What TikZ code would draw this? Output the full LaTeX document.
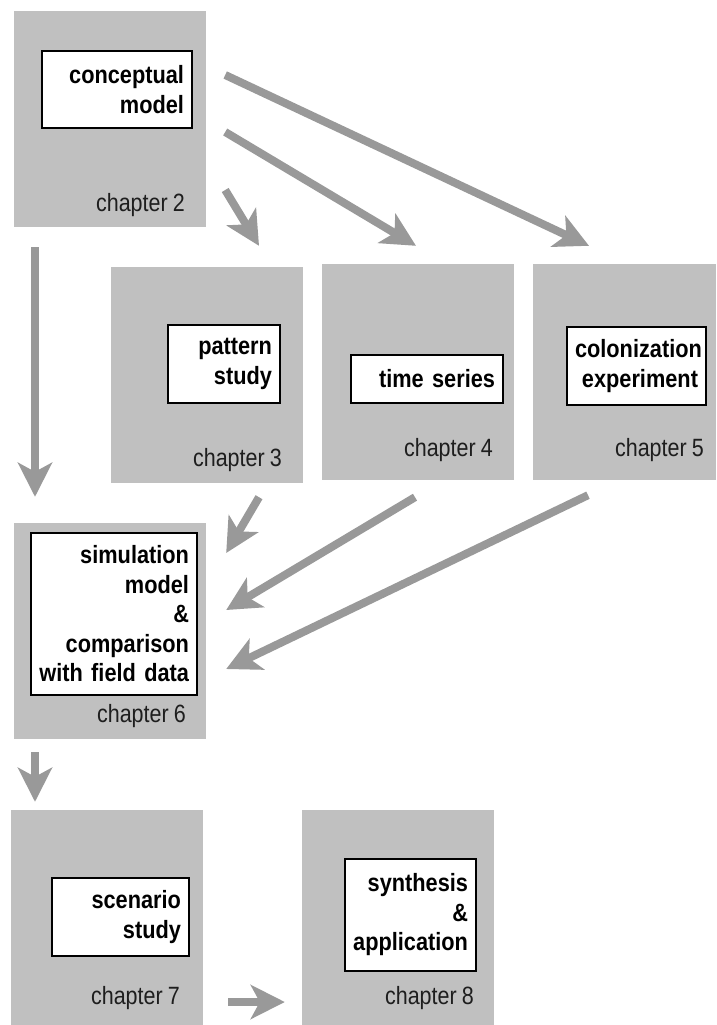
\documentclass[tikz,border=0pt]{standalone}
\usepackage{fontspec}
\setmainfont{Liberation Sans}[FakeStretch=0.86, WordSpace=0.85]
\newfontfamily\topicfont{Liberation Sans}[UprightFont=* Bold, FakeStretch=0.87, WordSpace=0.8]
\usepackage{tikz}
\usetikzlibrary{arrows.meta, calc}
\definecolor{chgray}{HTML}{C0C0C0}
\definecolor{arrowgray}{HTML}{999999}
\definecolor{labelink}{HTML}{1E1E1E}
\tikzstyle{chapter} = [rectangle, fill=chgray, inner sep=0pt, minimum width=192pt, minimum height=216pt]
\tikzstyle{topic} = [rectangle, draw=black, line width=1.4pt, fill=white, inner xsep=8pt, inner ysep=0pt, align=right, font=\topicfont\fontsize{25}{29.5}\selectfont]
\tikzstyle{chlabel} = [anchor=east, inner sep=0pt, text=labelink, font=\fontsize{25}{28}\selectfont]
\tikzstyle{arrow} = [line width=8pt, draw=arrowgray, -{Stealth[length=34pt, width=34pt, inset=9pt]}]

\begin{document}
\begin{tikzpicture}[x=1pt, y=-1pt]
		\useasboundingbox (0,0) rectangle (716,1025);
		% chapter blocks
		\node (Ch2) [chapter] at (110,119) {};
		\node (Ch3) [chapter] at (207,375) {};
		\node (Ch4) [chapter] at (418,372) {};
		\node (Ch5) [chapter, minimum width=183pt] at (624.5,372) {};
		\node (Ch6) [chapter] at (110,631) {};
		\node (Ch7) [chapter, minimum height=215pt] at (107,917.5) {};
		\node (Ch8) [chapter, minimum height=215pt] at (398,917.5) {};
		
		% topics
		\node (Concept) [topic, text width=134pt, minimum height=77pt] at (117,89.5) {conceptual\\model};
		\node (Pattern) [topic, text width=96pt, minimum height=78pt] at (224,364) {pattern\\study};
		\node (Series) [topic, text width=136pt, minimum height=48pt] at (427,379) {time series};
		\node (Colon) [topic, text width=123pt, minimum height=78pt] at (636.5,366) {colonization\\experiment};
		\node (Simul) [topic, text width=150pt, minimum height=162pt] at (114,614) {simulation\\model\\\&\\comparison\\with field data};
		\node (Scenario) [topic, text width=121pt, minimum height=78pt] at (120.5,917) {scenario\\study};
		\node (Synth) [topic, text width=115pt, minimum height=112pt] at (410.5,915) {synthesis\\\&\\application};
		
		% chapter labels
		\node (Lab2) [chlabel] at (185,205) {chapter 2};
		\node (Lab3) [chlabel] at (282,460) {chapter 3};
		\node (Lab4) [chlabel] at (493,450) {chapter 4};
		\node (Lab5) [chlabel] at (704,450) {chapter 5};
		\node (Lab6) [chlabel] at (186,716) {chapter 6};
		\node (Lab7) [chlabel] at (180,998) {chapter 7};
		\node (Lab8) [chlabel] at (474,998) {chapter 8};
		
		\draw [arrow] ($(Ch2.east) + (19,-44)$) -- ($(Ch5.north) + (-35.5,-18)$);
		\draw [arrow] ($(Ch2.east) + (19,13)$) -- ($(Ch4.north) + (-2,-18)$);
		\draw [arrow] ($(Ch2.east) + (19,71)$) -- ($(Ch3.north) + (52,-21)$);
		\draw [arrow] ($(Ch2.south) + (-75,20)$) -- ($(Ch6.north) + (-75,-26)$);
		\draw [arrow] ($(Ch3.south) + (52,14)$) -- ($(Ch6.east) + (20,-78)$);
		\draw [arrow] ($(Ch4.south) + (-3,17)$) -- ($(Ch6.east) + (20,-21)$);
		\draw [arrow] ($(Ch5.south) + (-36.5,15)$) -- ($(Ch6.east) + (20,38)$);
		\draw [arrow] ($(Ch6.south) + (-75,13)$) -- ($(Ch7.north) + (-72,-8)$);
		\draw [arrow] ($(Ch7.east) + (25,84.5)$) -- ($(Ch8.west) + (-17,84.5)$);
\end{tikzpicture}
\end{document}
